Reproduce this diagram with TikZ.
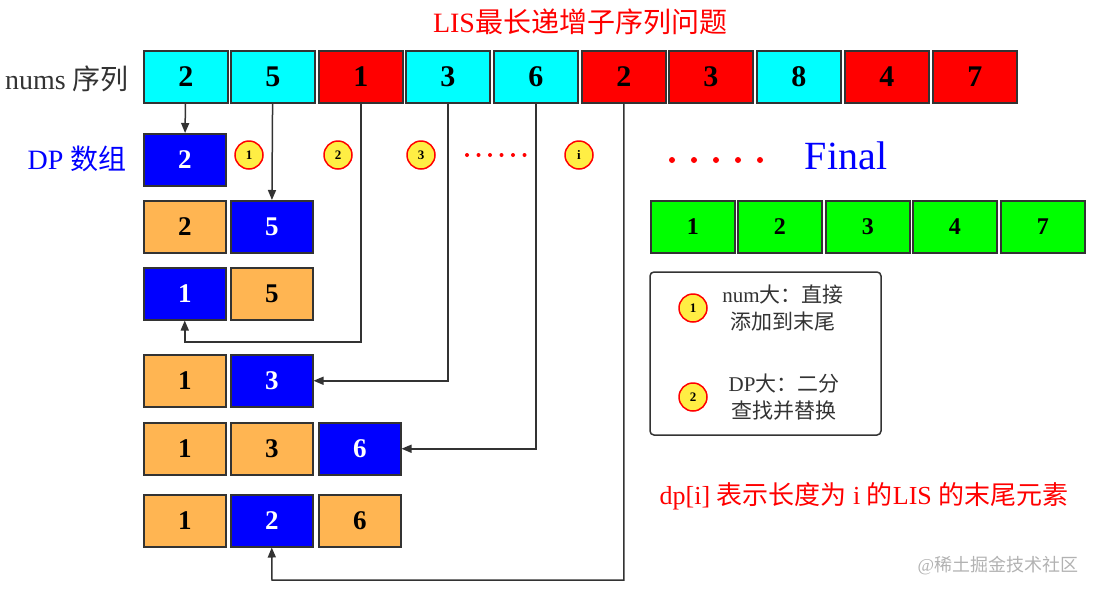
\documentclass[tikz,border=0pt]{standalone}
\usepackage{fontspec}
\setmainfont{Liberation Serif}
\newfontfamily\cjk{Noto Sans CJK SC}
\usetikzlibrary{arrows.meta}
\definecolor{lc}{HTML}{333333}
\definecolor{org}{HTML}{FFB552}
\definecolor{ylw}{HTML}{FFEE44}
\definecolor{cyn}{HTML}{00FFFF}
\begin{document}
\begin{tikzpicture}[x=1pt,y=-1pt,
 box/.style={draw=lc,line width=1.5pt,minimum width=82pt,minimum height=52pt,font=\fontsize{30}{30}\selectfont\bfseries,anchor=north west,inner sep=0},
 cy/.style={box,fill=cyn},rd/.style={box,fill=red},bl/.style={box,fill=blue,text=white,font=\fontsize{27}{27}\selectfont\bfseries},
 og/.style={box,fill=org,font=\fontsize{27}{27}\selectfont\bfseries},gr/.style={box,fill=green,minimum width=84pt,font=\fontsize{24}{24}\selectfont\bfseries},
 num/.style={circle,draw=red,line width=1.5pt,fill=ylw,minimum size=28pt,inner sep=0,font=\fontsize{13}{13}\selectfont\bfseries},
 ar/.style={draw=lc,line width=1.5pt,-{Triangle[length=10pt,width=8pt]}}]
\useasboundingbox (0,0) rectangle (1097,595);
\node[text=red,font=\fontsize{28}{28}\selectfont] (title) at (580,22) {LIS{\cjk 最长递增子序列问题}};
\node[font=\fontsize{28}{28}\selectfont,text=lc] (lab1) at (67,79) {nums {\cjk 序列}};
\node[font=\fontsize{28}{28}\selectfont,text=blue] (lab2) at (77,159) {DP {\cjk 数组}};
\foreach \i/\x/\s/\v in {1/143/cy/2,2/230/cy/5,3/318/rd/1,4/405/cy/3,5/493/cy/6,6/581/rd/2,7/668/rd/3,8/756/cy/8,9/844/rd/4,10/932/rd/7}
  \node[\s,minimum width=84pt] (t\i) at (\x,50) {\v};
\node[bl] (d1a) at (143,133) {2};
\node[og] (d2a) at (143,200) {2}; \node[bl] (d2b) at (230,200) {5};
\node[bl] (d3a) at (143,267) {1}; \node[og] (d3b) at (230,267) {5};
\node[og] (d4a) at (143,354) {1}; \node[bl] (d4b) at (230,354) {3};
\node[og] (d5a) at (143,422) {1}; \node[og] (d5b) at (230,422) {3}; \node[bl] (d5c) at (318,422) {6};
\node[og] (d6a) at (143,494) {1}; \node[bl] (d6b) at (230,494) {2}; \node[og] (d6c) at (318,494) {6};
\foreach \i/\x/\v in {1/650/1,2/737/2,3/825/3,4/912/4,5/1000/7}
  \node[gr] (f\i) at (\x,200) {\v};
\node[num] (c1) at (249,155) {1};
\node[num] (c2) at (338,155) {2};
\node[num] (c3) at (421,155) {3};
\node[num] (ci) at (579,155) {i};
\foreach \x in {467,478.5,...,525} \fill[red] (\x,155) circle (2pt);
\foreach \x in {672,694,...,780} \fill[red] (\x,160) circle (3pt);
\node[text=blue,font=\fontsize{40}{40}\selectfont] (fin) at (846,156) {Final};
\draw[ar] (t1) -- (d1a);
\draw[ar] (t2) -- (d2b);
\draw[ar] (t3.south) |- (360,342) -| (d3a.south);
\draw[ar] (t4.south) |- (d4b.east);
\draw[ar] (t5.south) |- (d5c.east);
\draw[ar] (t6.south) |- (272,580) -- (d6b.south);
\draw[lc,line width=1.5pt,rounded corners=4pt] (650,272) rectangle (881,435);
\node[num] (l1) at (693,308) {1};
\node[num] (l2) at (693,397) {2};
\node[align=center,text=lc,font=\fontsize{21}{27}\selectfont] (lt1) at (783,308) {num{\cjk 大：直接}\\{\cjk 添加到末尾}};
\node[align=center,text=lc,font=\fontsize{21}{27}\selectfont] (lt2) at (784,397) {DP{\cjk 大：二分}\\{\cjk 查找并替换}};
\node[text=red,font=\fontsize{26}{26}\selectfont] (note) at (864,496) {dp[i] {\cjk 表示长度为} i {\cjk 的}LIS {\cjk 的末尾元素}};
\node[text=gray!60,font=\fontsize{18}{18}\selectfont] (wm) at (998,566) {@{\cjk 稀土掘金技术社区}};
\end{tikzpicture}
\end{document}
